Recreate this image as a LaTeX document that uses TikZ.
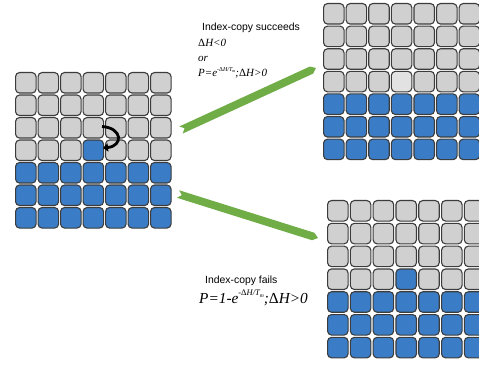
\documentclass[tikz,border=0pt]{standalone}
\usepackage{fontspec}
\setmainfont{Liberation Serif}
\newfontfamily\arialf{Liberation Sans}
\usetikzlibrary{calc,arrows.meta}
\definecolor{cellblue}{RGB}{58,125,198}
\definecolor{cellgray}{RGB}{208,208,208}
\definecolor{celllight}{RGB}{226,226,226}
\definecolor{cellborder}{RGB}{60,60,60}
\definecolor{arrowgreen}{RGB}{112,173,71}
\newcommand\greenband[3]{%
  \coordinate (#3t1) at ($(#1)!3.9pt!90:(#2)$);
  \coordinate (#3t2) at ($(#1)!3.9pt!-90:(#2)$);
  \coordinate (#3tn) at ($(#1)!4pt!(#2)$);
  \coordinate (#3hb) at ($(#2)!5pt!(#1)$);
  \coordinate (#3h1) at ($(#3hb)!3.9pt!90:(#2)$);
  \coordinate (#3h2) at ($(#3hb)!3.9pt!-90:(#2)$);
  \fill[arrowgreen] (#3t1) -- (#3h1) -- (#2) -- (#3h2) -- (#3t2) -- (#3tn) -- cycle;
}
\newcommand\cellgrid[6]{% #1 prefix, #2 x0, #3 y0, #4 pitch, #5 special colour, #6 mode
  \foreach \r in {1,...,7}{\foreach \c in {1,...,7}{
    \pgfmathsetmacro{\isblue}{\r>4 ? 1 : 0}
    \pgfmathsetmacro{\isspec}{(\r==4)&&(\c==4) ? 1 : 0}
    \ifdim\isblue pt>0.5pt \def\fc{cellblue}\else
      \ifdim\isspec pt>0.5pt \def\fc{#5}\else\def\fc{cellgray}\fi\fi
    \node[cell, fill=\fc] (#1\r\c) at ({#2+(\c-1)*#4},{#3+(\r-1)*#4}) {};
  }}
}
\begin{document}
\begin{tikzpicture}[x=1pt,y=-1pt,
  cell/.style={draw=cellborder, line width=1.1pt, rounded corners=4pt,
    minimum size=20.5pt, inner sep=0pt, anchor=north west},
  label text/.style={anchor=base west, inner sep=0pt, font=\arialf\fontsize{10.4}{12}\selectfont},
  formula/.style={anchor=base west, inner sep=0pt, font=\fontsize{11}{13}\selectfont\itshape},
  bigformula/.style={anchor=base west, inner sep=0pt, font=\fontsize{15.3}{18}\selectfont\itshape}]
\useasboundingbox (0,0) rectangle (479,366);
\fill[white] (0,0) rectangle (479,366);

% grids
\cellgrid{L}{15}{72}{22.5}{cellblue}{}
\cellgrid{T}{323}{3}{22.6}{celllight}{}
\cellgrid{B}{327}{200}{22.8}{cellblue}{}

% swap arrow
\coordinate (cs) at (102,126.5);
\coordinate (ce) at (103,148);
\draw[line width=2.8pt, -{Triangle[length=5pt,width=8pt]}] (cs) .. controls (123,128) and (123,146) .. (ce);

% green arrows
\coordinate (ua) at (181,130);
\coordinate (ub) at (316,68);
\coordinate (da) at (178,194);
\coordinate (db) at (318,238);
\greenband{ua}{ub}{u}
\greenband{da}{db}{d}

% texts
\node[label text] (s1) at (202,31) {Index-copy succeeds};
\node[formula] (s2) at (198,47) {{\upshape Δ}H<0};
\node[formula] (s3) at (198,62) {or};
\node[formula] (s4) at (198,77) {P=e\raisebox{0.5em}{\fontsize{6}{7}\selectfont -{\upshape Δ}H/T\raisebox{-0.25em}{\fontsize{4.2}{5}\selectfont m}};{\upshape Δ}H>0};

\node[label text] (f1) at (205,283) {Index-copy fails};
\node[bigformula] (f2) at (199,303) {P=1-e\raisebox{0.5em}{\fontsize{8.5}{10}\selectfont -{\upshape Δ}H/T\raisebox{-0.25em}{\fontsize{5.5}{7}\selectfont m}};{\upshape Δ}H>0};
\end{tikzpicture}
\end{document}
